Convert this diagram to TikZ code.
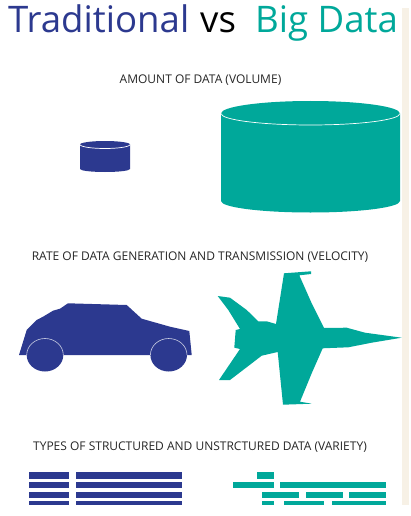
\documentclass[tikz,border=0pt]{standalone}
\usepackage{fontspec}
\setmainfont{Open Sans}
\definecolor{tradC}{RGB}{44, 57, 143}
\definecolor{bigC} {RGB}{0, 168, 154}
\definecolor{stripC}{RGB}{247, 241, 230}
\tikzset{
  title/.style = {inner sep=0pt, anchor=base west, font=\fontsize{36.6}{36.6}\selectfont},
  head/.style  = {inner sep=0pt, anchor=base, text=black!85, font=\fontsize{12}{13}\selectfont},
  rim/.style   = {draw=white, line width=0.7pt},
}

\begin{document}
\begin{tikzpicture}[x=1pt, y=-1pt]
\useasboundingbox (0,0) rectangle (410,516);

% Side strip
\fill[stripC] (402,8) rectangle (409,505);

% Title
\node[title, text=tradC] (trad) at (8,33) {Traditional};
\node[title, text=black] (vs) at (200,33) {vs};
\node[title, text=bigC] (big) at (255,33) {Big Data};

% Section headings
\node[head] (volume) at (200.5,84) {AMOUNT OF DATA (VOLUME)};
\node[head] (velocity) at (200,260) {RATE OF DATA GENERATION AND TRANSMISSION (VELOCITY)};
\node[head] (variety) at (200,450) {TYPES OF STRUCTURED AND UNSTRCTURED DATA (VARIETY)};

% Small cylinder
\fill[tradC] (80,144.5) arc[start angle=180, end angle=360, x radius=25, y radius=3.5]
  -- (130,169) arc[start angle=0, end angle=180, x radius=25, y radius=3] -- cycle;
\draw[rim] (80,144.5) arc[start angle=180, end angle=0, x radius=25, y radius=4];

% Big cylinder
\fill[bigC] (221,113.5) arc[start angle=180, end angle=360, x radius=89.5, y radius=12.5]
  -- (400,201) arc[start angle=0, end angle=180, x radius=89.5, y radius=11.5] -- cycle;
\draw[rim] (221,113.5) arc[start angle=180, end angle=0, x radius=89.5, y radius=11.5];

% Car
\fill[tradC] (19,355) -- (26.7,330) -- (36.7,320) -- (43,316.7) -- (53,310.7) -- (60,308.7)
  -- (68,303.3) -- (126.7,305) -- (141.7,318.7) -- (170,326.7) -- (189.3,331) -- (191.7,355) -- cycle;
\foreach \wx in {45,168.7} {
  \fill[tradC] (\wx,355) ellipse[x radius=18.3, y radius=16.5];
  \draw[white!75!tradC, line width=0.6pt] (\wx-18.3,355) arc[start angle=180, end angle=360, x radius=18.3, y radius=16.5];
}

% Jet
\fill[bigC] (284,273.3) -- (311,271.3) -- (311,274) -- (299.3,275.3) -- (311.7,303.3) -- (324,328)
  -- (346.7,327.7) -- (365,332.7) -- (401.7,337.7) -- (371.7,342.7) -- (348.3,347.3) -- (322.7,348.3)
  -- (311.7,373.3) -- (300,401.7) -- (311.7,403.7) -- (283,404.7) -- (277.7,352) -- (261.7,355.7)
  -- (248.3,366) -- (230,380) -- (219,380) -- (240,349) -- (234.3,347.7) -- (235.7,330) -- (240,329)
  -- (228.3,310) -- (217.7,296) -- (230,297.7) -- (246.7,310) -- (258.3,321.3) -- (266.7,321.3)
  -- (276,324) -- cycle;

% Structured rows
\foreach \ya/\yb in {472.3/479, 482/488.3, 491.7/497.7, 500.7/505} {
  \fill[tradC] (29,\ya) rectangle (69.3,\yb);
  \fill[tradC] (75.7,\ya) rectangle (181.7,\yb);
}

% Unstructured rows
\foreach \xa/\xb/\ya/\yb in {
  256.7/274/472.3/479,
  233.3/274/482/488.3, 280/386/482/488.3,
  261.7/298.7/491.7/497.7, 306/342.7/491.7/497.7, 349/386/491.7/497.7,
  261.7/274/500.7/505, 284.3/324.3/500.7/505, 331.7/386/500.7/505} {
  \fill[bigC] (\xa,\ya) rectangle (\xb,\yb);
}

\end{tikzpicture}
\end{document}
